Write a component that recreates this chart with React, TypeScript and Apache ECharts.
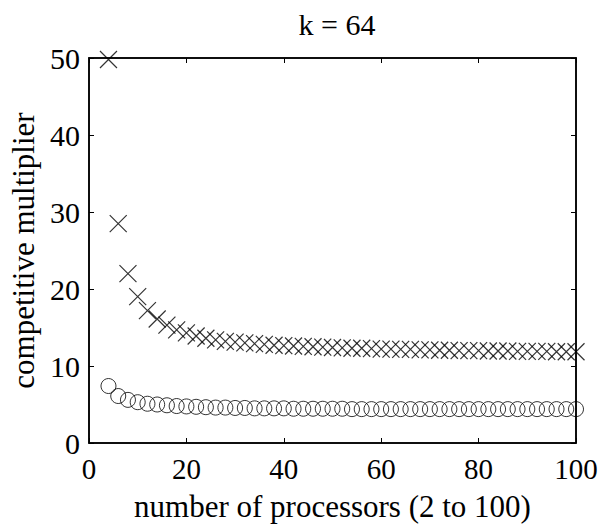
import React, { useEffect, useRef } from "react";
import * as echarts from "echarts";

const processors = [4, 6, 8, 10, 12, 14, 16, 18, 20, 22, 24, 26, 28, 30, 32, 34, 36, 38, 40, 42, 44, 46, 48, 50, 52, 54, 56, 58, 60, 62, 64, 66, 68, 70, 72, 74, 76, 78, 80, 82, 84, 86, 88, 90, 92, 94, 96, 98, 100];
const crossValues = [49.8, 28.5, 22.0, 19.0, 17.2, 16.1, 15.3, 14.7, 14.3, 13.9, 13.6, 13.4, 13.2, 13.1, 13.0, 12.9, 12.8, 12.7, 12.65, 12.6, 12.55, 12.5, 12.45, 12.4, 12.35, 12.3, 12.3, 12.25, 12.2, 12.2, 12.15, 12.15, 12.1, 12.1, 12.05, 12.05, 12.0, 12.0, 12.0, 11.95, 11.95, 11.95, 11.9, 11.9, 11.9, 11.9, 11.85, 11.85, 11.85];
const circleValues = [7.4, 6.1, 5.6, 5.3, 5.1, 5.0, 4.9, 4.8, 4.75, 4.7, 4.65, 4.6, 4.6, 4.55, 4.55, 4.5, 4.5, 4.5, 4.5, 4.45, 4.45, 4.45, 4.45, 4.45, 4.45, 4.4, 4.4, 4.4, 4.4, 4.4, 4.4, 4.4, 4.4, 4.4, 4.4, 4.4, 4.4, 4.4, 4.4, 4.4, 4.4, 4.4, 4.4, 4.4, 4.4, 4.4, 4.4, 4.4, 4.4];
const xTicks = [0, 20, 40, 60, 80, 100];
const yTicks = [0, 10, 20, 30, 40, 50];
const title = "k = 64";
const xName = "number of processors (2 to 100)";
const yName = "competitive multiplier";

const FONT = "Liberation Serif";

export default function App() {
  const ref = useRef<HTMLDivElement>(null);
  useEffect(() => {
    if (!ref.current) return;
    const chart = echarts.init(ref.current, null, { renderer: "svg" });
    const axisCommon = {
      axisLine: { show: true, onZero: false, lineStyle: { color: "#000", width: 1.5 } },
      axisTick: { show: true, inside: true, length: 5, lineStyle: { color: "#000", width: 1 } },
      splitLine: { show: false },
    };
    chart.setOption({
      animation: false,
      backgroundColor: "#fff",
      title: {
        text: title,
        left: 332,
        top: 4,
        textAlign: "center",
        textStyle: { fontFamily: FONT, fontSize: 30, fontWeight: "normal", color: "#000" },
      },
      grid: { left: 88, right: 27, top: 58, bottom: 82, containLabel: false, show: true, borderColor: "#000", borderWidth: 1.5, backgroundColor: "transparent" },
      xAxis: [
        {
          type: "value",
          min: xTicks[0],
          max: xTicks[xTicks.length - 1],
          interval: 20,
          position: "bottom",
          name: xName,
          nameLocation: "middle",
          nameGap: 48,
          nameTextStyle: { fontFamily: FONT, fontSize: 31, color: "#000" },
          axisLabel: { fontFamily: FONT, fontSize: 29, color: "#000", margin: 11 },
          ...axisCommon,
        },
        {
          type: "value",
          min: xTicks[0],
          max: xTicks[xTicks.length - 1],
          interval: 20,
          position: "top",
          axisLabel: { show: false },
          ...axisCommon,
        },
      ],
      yAxis: [
        {
          type: "value",
          min: yTicks[0],
          max: yTicks[yTicks.length - 1],
          interval: 10,
          position: "left",
          name: yName,
          nameLocation: "middle",
          nameGap: 50,
          nameTextStyle: { fontFamily: FONT, fontSize: 31, color: "#000" },
          axisLabel: { fontFamily: FONT, fontSize: 30, color: "#000", margin: 9 },
          ...axisCommon,
        },
        {
          type: "value",
          min: yTicks[0],
          max: yTicks[yTicks.length - 1],
          interval: 10,
          position: "right",
          axisLabel: { show: false },
          ...axisCommon,
        },
      ],
      series: [
        {
          type: "scatter",
          data: processors.map((p, i) => [p, crossValues[i]]),
          symbol: "path://M0,0L10,10M10,0L0,10",
          symbolSize: 17,
          itemStyle: { color: "none", borderColor: "#000", borderWidth: 1.2 },
          clip: false,
          z: 5,
        },
        {
          type: "scatter",
          data: processors.map((p, i) => [p, circleValues[i]]),
          symbol: "circle",
          symbolSize: 15,
          itemStyle: { color: "none", borderColor: "#000", borderWidth: 1 },
          clip: false,
          z: 5,
        },
      ],
    });
    return () => chart.dispose();
  }, []);
  return <div ref={ref} style={{ width: 603, height: 527, position: "absolute", left: 0, top: 0 }} />;
}
